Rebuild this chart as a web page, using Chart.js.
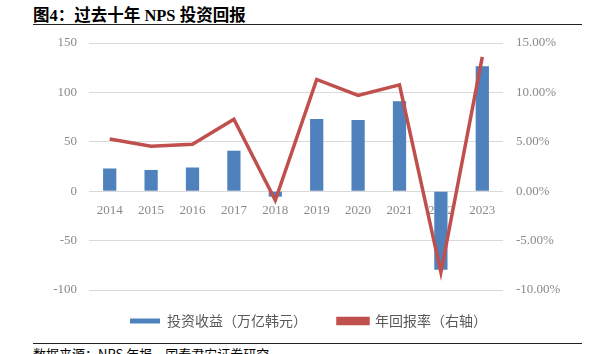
<!DOCTYPE html>
<html>
<head>
<meta charset="utf-8">
<script src="https://cdn.jsdelivr.net/npm/chart.js@4.4.0/dist/chart.umd.min.js"></script>
<style>
  body { margin: 0; width: 592px; height: 354px; overflow: hidden; background: #fff; position: relative; }
  #title { position: absolute; left: 33px; top: 2px; font: bold 16.5px "Liberation Serif", "Noto Sans CJK SC", serif; color: #000; white-space: nowrap; }
  .rule { position: absolute; left: 33px; width: 549px; height: 1px; background: #222; }
  #source { position: absolute; left: 33px; top: 344px; font: 13px "Noto Sans CJK SC", serif; color: #000; white-space: nowrap; }
  #wrap { position: absolute; left: 0; top: 0; width: 592px; height: 342px; }
</style>
</head>
<body>
<div id="title">图4：过去十年 NPS 投资回报</div>
<div class="rule" style="top:24px"></div>
<div id="wrap"><canvas id="chart"></canvas></div>
<div class="rule" style="top:343px"></div>
<div id="source">数据来源：NPS 年报，国泰君安证券研究</div>
<script>
// données
const years = ['2014', '2015', '2016', '2017', '2018', '2019', '2020', '2021', '2022', '2023'];
const investIncome = [23, 21.5, 24, 41, -5.5, 73, 72, 91, -79.5, 126.5];   // 万亿韩元
const annualReturn = [5.28, 4.54, 4.74, 7.29, -0.92, 11.31, 9.70, 10.77, -8.22, 13.59]; // %

const tickFont = { family: 'Liberation Serif', size: 13 };
const tickColor = '#8a8a8a';

const ctx = document.getElementById('chart').getContext('2d');
new Chart(ctx, {
    data: {
        labels: years,
        datasets: [
            {
                type: 'line',
                label: '年回报率（右轴）',
                data: annualReturn,
                yAxisID: 'y1',
                borderColor: '#C0504D',
                backgroundColor: '#C0504D',
                borderWidth: 3.5,
                pointRadius: 0,
                tension: 0,
                order: 1
            },
            {
                type: 'bar',
                label: '投资收益（万亿韩元）\u2002',
                data: investIncome,
                yAxisID: 'y',
                backgroundColor: '#4F81BD',
                barPercentage: 0.32,
                categoryPercentage: 1,
                order: 2
            }
        ]
    },
    options: {
        responsive: true,
        maintainAspectRatio: false,
        animation: false,
        layout: { padding: { left: 25, right: 0, top: 43, bottom: 4 } },
        plugins: {
            tooltip: { enabled: false },
            legend: {
                position: 'bottom',
                reverse: true,
                labels: {
                    boxWidth: 30,
                    boxHeight: 5,
                    padding: 24,
                    color: '#595959',
                    font: { family: 'Noto Sans CJK SC', size: 14 }
                }
            }
        },
        scales: {
            x: {
                position: { y: 0 },
                grid: { display: false },
                border: { display: false },
                ticks: { color: tickColor, font: tickFont, padding: 4, maxRotation: 0 },
                afterFit: scale => { scale.height = 0; }
            },
            y: {
                position: 'left',
                min: -100,
                max: 150,
                ticks: { stepSize: 50, color: tickColor, font: tickFont, padding: 12 },
                grid: { color: '#d9d9d9', lineWidth: 1, drawTicks: false },
                border: { display: false },
                afterFit: scale => { scale.width = 64; }
            },
            y1: {
                position: 'right',
                min: -10,
                max: 15,
                ticks: {
                    stepSize: 5,
                    color: tickColor,
                    font: tickFont,
                    padding: 13,
                    callback: v => v.toFixed(2) + '%'
                },
                grid: { display: false, drawTicks: false },
                border: { display: false },
                afterFit: scale => { scale.width = 89; }
            }
        }
    }
});
</script>
</body>
</html>
